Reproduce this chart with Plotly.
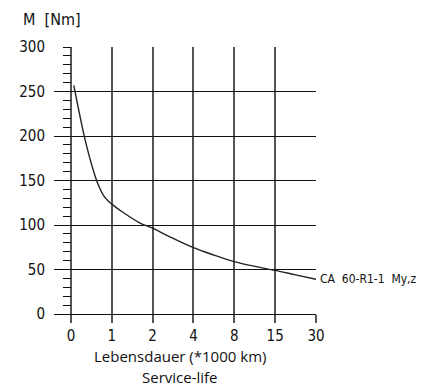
import numpy as np
import plotly.graph_objects as go

# tick labels of the (non-linear) service-life axis, in 1000 km
x_ticks_km = [0, 1, 2, 4, 8, 15, 30]
x_tick_labels = ["0", "1", "2", "4", "8", "15", "30"]
y_ticks = [0, 50, 100, 150, 200, 250, 300]

# curve CA 60-R1-1 My,z : service life (1000 km) vs torque (Nm)
life_km = [0.07, 0.33, 0.48, 0.585, 0.69, 0.8, 0.9, 1.0, 1.28, 1.68, 2.0, 2.82, 4.0, 6.0, 8.0, 11.15, 15.0, 22.5, 30.0]
torque = [257, 199, 172, 156, 143, 133, 127.5, 123.5, 114, 102.5, 96.5, 87, 74.5, 66.2, 58.8, 54, 49, 44, 39]
series_name = "CA \u00a060-R1-1 \u00a0My,z"

# map km values to the equally spaced tick positions of the axis
tick_pos = list(range(len(x_ticks_km)))
x_pos = np.interp(life_km, x_ticks_km, tick_pos)

NARROW = "Liberation Sans Narrow, DejaVu Sans Condensed, sans-serif"

fig = go.Figure()
fig.add_trace(go.Scatter(x=x_pos, y=torque, mode="lines",
                         line=dict(color="#222", width=1.4, shape="spline", smoothing=1.0),
                         showlegend=False, hoverinfo="skip"))
# same series on the overlaid axis so that the minor-tick axis at x=0 is drawn
fig.add_trace(go.Scatter(x=x_pos, y=torque, mode="markers", yaxis="y2",
                         marker=dict(opacity=0, size=1),
                         showlegend=False, hoverinfo="skip"))

# plot area: x 54..316, y 47..314 in the page (the page body has an 8px margin)
fig.update_layout(
    width=419, height=379,
    margin=dict(l=46, r=111, t=39, b=73),
    plot_bgcolor="white", paper_bgcolor="white",
    font=dict(family=NARROW, size=15, color="#111"),
    xaxis=dict(range=[-0.415, 6], tickmode="array", tickvals=tick_pos, ticktext=x_tick_labels,
               showgrid=True, gridcolor="#555", gridwidth=1.5,
               ticks="outside", ticklen=8, tickcolor="#555", tickwidth=1.5,
               zeroline=False, showline=False, tickfont=dict(family=NARROW, size=15)),
    yaxis=dict(range=[0, 300], tickmode="array", tickvals=y_ticks,
               showgrid=True, gridcolor="#111", gridwidth=1,
               zeroline=True, zerolinecolor="#111", zerolinewidth=1,
               ticks="", showline=False, ticklabelstandoff=8,
               tickfont=dict(family=NARROW, size=15)),
    yaxis2=dict(range=[0, 300], overlaying="y", anchor="free", position=0.415 / 6.415,
                side="left", tickmode="linear", tick0=0, dtick=10,
                ticks="outside", ticklen=8, tickcolor="#111", tickwidth=1.2,
                showticklabels=False, showgrid=False, zeroline=False, showline=False),
    annotations=[
        dict(text="M  [Nm]", xref="paper", yref="paper", x=-0.125, y=1.06, xanchor="left", yanchor="bottom",
             showarrow=False, font=dict(family=NARROW, size=16)),
        dict(text="Lebensdauer (*1000 km)", xref="paper", yref="paper",
             x=(180 - 54) / 262, y=-0.157, xanchor="center", yanchor="middle", showarrow=False,
             font=dict(family="Open Sans, sans-serif", size=15, color="#111")),
        dict(text="Service-life", xref="paper", yref="paper",
             x=(180 - 54) / 262, y=-0.236, xanchor="center", yanchor="middle", showarrow=False,
             font=dict(family="Open Sans, sans-serif", size=15, color="#111")),
        dict(text=series_name, xref="x", yref="y", x=x_pos[-1], y=torque[-1],
             xanchor="left", yanchor="middle", xshift=2, showarrow=False,
             font=dict(family=NARROW, size=12)),
    ],
)

fig.write_html("out.html")
